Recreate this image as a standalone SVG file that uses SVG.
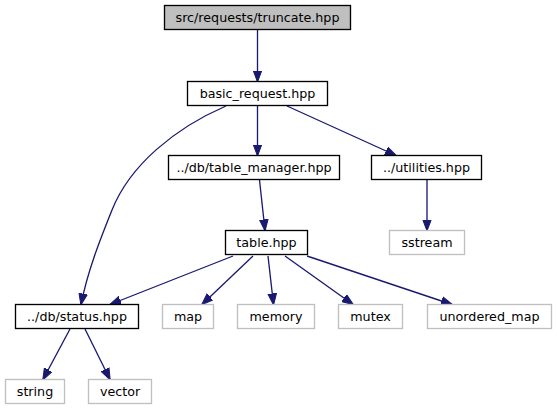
<svg xmlns="http://www.w3.org/2000/svg" width="557" height="411" viewBox="0 0 557 411">
<style>
  .n rect { fill: #ffffff; stroke: #000000; stroke-width: 1.33; }
  .root rect { fill: #bfbfbf; stroke: #000000; stroke-width: 1.33; }
  .sys rect { fill: #ffffff; stroke: #bfbfbf; stroke-width: 1.33; }
  text { font-family: "DejaVu Sans", sans-serif; font-size: 12.7px; fill: #000000; text-anchor: middle; }
  .e path { fill: none; stroke: #191970; stroke-width: 1.33; marker-end: url(#arr); }
</style>
<defs>
  <marker id="arr" markerUnits="userSpaceOnUse" markerWidth="12" markerHeight="10" viewBox="0 -5 12 10" refX="11" refY="0" orient="auto">
    <path d="M0,-4.3 L11.5,0 L0,4.3 Z" fill="#191970" stroke="#191970" stroke-width="1"/>
  </marker>
</defs>
<rect width="557" height="411" fill="#ffffff"/>
<g id="edges" class="e">
  <path d="M257.5,30 L257.5,81.5"/>
  <path d="M257.5,105.5 L257.5,155.5"/>
  <path d="M226,106 C175,128 130,165 112,210 C100,240 88,270 81,304.5"/>
  <path d="M287,106 L396,155.5"/>
  <path d="M259.5,180 L265,230.5"/>
  <path d="M427,180 L427,230.5"/>
  <path d="M233,256 L110,304.5"/>
  <path d="M253,256 L202,304.5"/>
  <path d="M268,256 L273.5,304.5"/>
  <path d="M285,256 L353,304.5"/>
  <path d="M307,256 L452,304.5"/>
  <path d="M70,329 L43,379.5"/>
  <path d="M85,329 L110,379.5"/>
</g>
<g id="truncate" class="root"><rect x="164.5" y="5.5" width="186" height="24"/><text x="257.5" y="21.7">src/requests/truncate.hpp</text></g>
<g id="basic_request" class="n"><rect x="187.5" y="81.5" width="140" height="24"/><text x="257.5" y="97.7">basic_request.hpp</text></g>
<g id="table_manager" class="n"><rect x="168.5" y="155.5" width="171" height="24"/><text x="254" y="171.7">../db/table_manager.hpp</text></g>
<g id="utilities" class="n"><rect x="371.5" y="155.5" width="110" height="24"/><text x="426.5" y="171.7">../utilities.hpp</text></g>
<g id="table" class="n"><rect x="225.5" y="230.5" width="82" height="24"/><text x="266.5" y="246.7">table.hpp</text></g>
<g id="sstream" class="sys"><rect x="389.5" y="230.5" width="75" height="24"/><text x="427" y="246.7">sstream</text></g>
<g id="status" class="n"><rect x="15.5" y="304.5" width="123" height="24"/><text x="77" y="320.7">../db/status.hpp</text></g>
<g id="map" class="sys"><rect x="162.5" y="304.5" width="51" height="24"/><text x="188" y="320.7">map</text></g>
<g id="memory" class="sys"><rect x="237.5" y="304.5" width="77" height="24"/><text x="276" y="320.7">memory</text></g>
<g id="mutex" class="sys"><rect x="338.5" y="304.5" width="64" height="24"/><text x="370.5" y="320.7">mutex</text></g>
<g id="unordered_map" class="sys"><rect x="427.5" y="304.5" width="124" height="24"/><text x="489.5" y="320.7">unordered_map</text></g>
<g id="string" class="sys"><rect x="5.5" y="379.5" width="59" height="24"/><text x="35" y="395.7">string</text></g>
<g id="vector" class="sys"><rect x="88.5" y="379.5" width="63" height="24"/><text x="120" y="395.7">vector</text></g>
</svg>
